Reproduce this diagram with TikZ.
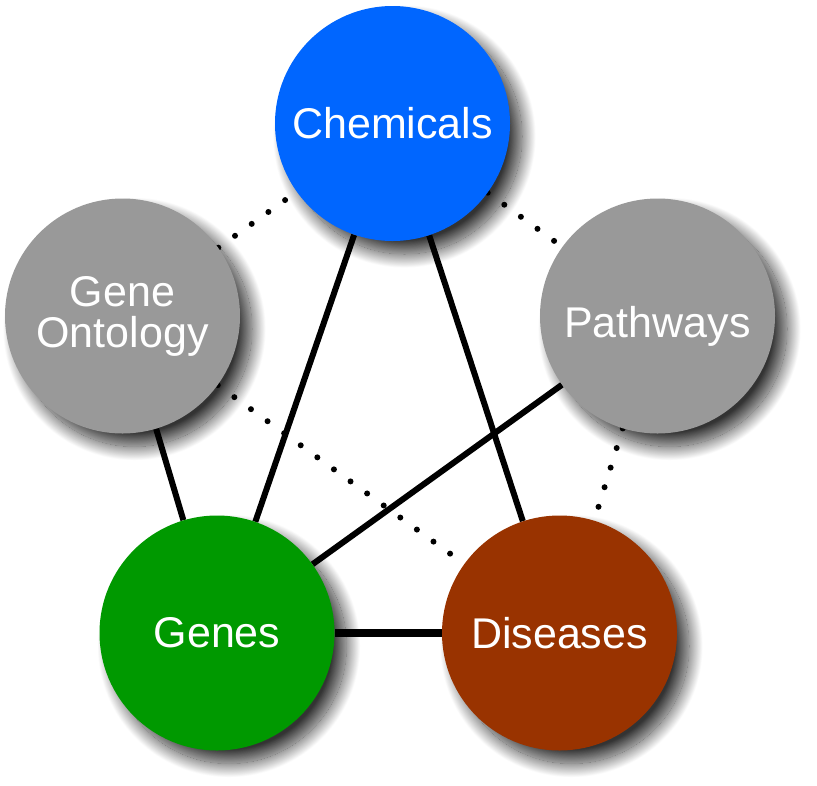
\documentclass[tikz,border=0pt]{standalone}
\usepackage{fontspec}
\setmainfont{Liberation Sans}
\usetikzlibrary{shadows.blur}
\pgfdeclarelayer{shadowlayer}
\pgfdeclarelayer{links}
\pgfsetlayers{shadowlayer,links,main}
\definecolor{chemblue}{HTML}{0066FF}
\definecolor{gogray}{HTML}{999999}
\definecolor{genegreen}{HTML}{009900}
\definecolor{disbrown}{HTML}{993300}
\tikzset{
  entity/.style={circle, minimum size=235pt, inner sep=0pt, text=white,
    font=\fontsize{43}{41}\selectfont, align=center},
  solidlink/.style={line width=6pt, black},
  dottedlink/.style={line width=6pt, black, line cap=round, dash pattern=on 0pt off 20.5pt},
  shadowonly/.style={blur shadow={shadow xshift=12pt, shadow yshift=-13pt,
    shadow blur radius=14pt, shadow blur steps=40, shadow opacity=80}}
}
\begin{document}
\begin{tikzpicture}[x=1pt,y=-1pt]
\useasboundingbox (0,0) rectangle (817,785);
\node[entity, fill=chemblue] (chem) at (392.5,123.5) {Chemicals};
\node[entity, fill=gogray] (go) at (122.5,316) {Gene\\Ontology};
\node[entity, fill=gogray] (path) at (657.5,316) {\raisebox{0pt}[42pt][0pt]{Pathways}};
\node[entity, fill=genegreen] (genes) at (217,633) {Genes};
\node[entity, fill=disbrown] (dis) at (559.5,633) {Diseases};
\begin{pgfonlayer}{shadowlayer}
  \foreach \n in {chem,go,path,genes,dis}
    \path[shadowonly] (\n.center) circle[radius=117.5pt];
\end{pgfonlayer}
\begin{pgfonlayer}{links}
  \draw[dottedlink] (go) -- (chem);
  \draw[dottedlink] (chem) -- (path);
  \draw[dottedlink] (go) -- (dis);
  \draw[dottedlink] (path) -- (dis);
  \draw[solidlink] (go) -- (genes);
  \draw[solidlink] (chem) -- (genes);
  \draw[solidlink] (chem) -- (dis);
  \draw[solidlink] (path) -- (genes);
  \draw[solidlink, line width=8pt] (genes) -- (dis);
\end{pgfonlayer}
\end{tikzpicture}
\end{document}
